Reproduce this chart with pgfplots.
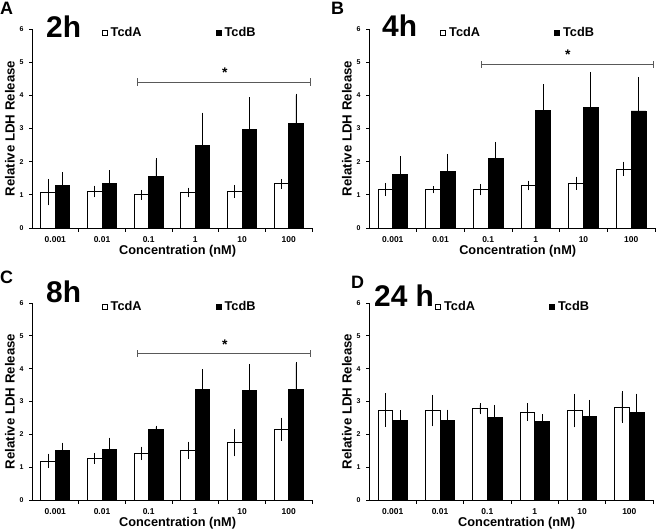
\documentclass[border=0pt]{standalone}
\usepackage{pgfplots}
\pgfplotsset{compat=1.18}
\usepackage{pgfplotstable}
\usepackage{fontspec}
\setmainfont{Liberation Sans}

\pgfplotstableread{
x A Ae B Be
0 1.08 0.35 1.27 0.37
1 1.10 0.13 1.33 0.37
2 1.00 0.10 1.55 0.50
3 1.07 0.10 2.48 0.95
4 1.10 0.15 2.97 0.93
5 1.33 0.10 3.16 0.84
}\tabA
\pgfplotstableread{
x A Ae B Be
0 1.16 0.15 1.62 0.50
1 1.15 0.06 1.71 0.48
2 1.15 0.12 2.10 0.45
3 1.28 0.10 3.55 0.73
4 1.35 0.15 3.63 1.03
5 1.78 0.17 3.53 0.97
}\tabB
\pgfplotstableread{
x A Ae B Be
0 1.19 0.17 1.50 0.20
1 1.27 0.12 1.55 0.30
2 1.42 0.16 2.16 0.06
3 1.51 0.22 3.37 0.56
4 1.74 0.36 3.35 0.75
5 2.16 0.30 3.36 0.80
}\tabC
\pgfplotstableread{
x A Ae B Be
0 2.74 0.46 2.41 0.28
1 2.72 0.43 2.43 0.27
2 2.78 0.12 2.52 0.33
3 2.68 0.22 2.39 0.17
4 2.72 0.46 2.54 0.46
5 2.83 0.43 2.66 0.53
}\tabD

\pgfplotsset{
  panel/.style={
    scale only axis, width=280bp, height=199bp,
    axis x line=bottom, axis y line=left,
    axis line style={-, line width=0.8bp},
    xmin=-0.5, xmax=5.5, ymin=0, ymax=6,
    ybar,
    xtick={0,...,5}, xticklabels={0.001,0.01,0.1,1,10,100},
    major x tick style={draw=none},
    minor xtick={0.5,1.5,2.5,3.5,4.5,5.5},
    minor tick length=4bp,
    ytick={0,...,6},
    major tick length=3bp,
    tick align=outside,
    tick style={line width=0.8bp, black},
    /pgf/number format/assume math mode=true,
    xticklabel style={font=\fontsize{8.5}{8.5}\selectfont\bfseries, yshift=-2bp},
    yticklabel style={font=\fontsize{7}{7}\selectfont\bfseries, xshift=-2bp},
    xlabel={Concentration (nM)},
    ylabel={Relative LDH Release},
    every axis x label/.style={at={(axis description cs:0.52,0)}, anchor=center, yshift=-23bp, font=\fontsize{12.8}{12.8}\selectfont\bfseries},
    every axis y label/.style={at={(axis description cs:0,0.5)}, anchor=center, rotate=90, yshift=22bp, font=\fontsize{13.3}{13.3}\selectfont\bfseries},
    legend columns=2,
    legend style={draw=none, fill=none, anchor=west, inner sep=0pt,
      font=\fontsize{12.8}{12.8}\selectfont\bfseries,
      /tikz/every even column/.append style={column sep=72bp}},
    clip=false,
  },
  barA/.style={forget plot, fill=white, draw=black, line width=0.8bp, bar width=0.31, bar shift=-0.155,
    error bars/.cd, y dir=both, y explicit,
    error bar style={line width=0.8bp, black}, error mark options={mark size=1.6bp, line width=0.8bp, black}},
  barB/.style={forget plot, fill=black, draw=black, line width=0.8bp, bar width=0.31, bar shift=0.155,
    error bars/.cd, y dir=both, y explicit,
    error bar style={line width=0.8bp, black}, error mark options={mark size=1.6bp, line width=0.8bp, black}},
  legA/.style={legend image code/.code={\draw[fill=white,draw=black,line width=0.7bp] (0bp,-2.6bp) rectangle (5.2bp,2.6bp); \path (6.5bp,0);}},
  legB/.style={legend image code/.code={\draw[fill=black,draw=black,line width=0.7bp] (0bp,-2.6bp) rectangle (5.2bp,2.6bp); \path (6.5bp,0);}},
}

\begin{document}
\begin{tikzpicture}
\useasboundingbox (0bp,0bp) rectangle (660bp,530bp);

% Panel A
\begin{axis}[panel, at={(32bp,302bp)}, anchor=south west,
  legend style={at={(rel axis cs:0.248,0.98)}}]
\addlegendimage{legA}\addlegendentry{TcdA}
\addlegendimage{legB}\addlegendentry{TcdB}
\addplot[barA] table[x=x, y=A, y error=Ae] {\tabA};
\addplot[barB] table[x=x, y=B, y error=Be] {\tabA};
\draw[line width=0.8bp, black!65, |-|] (axis cs:1.76,4.40) -- (axis cs:5.48,4.40);
\node[font=\fontsize{14}{14}\selectfont\bfseries] at (axis cs:3.63,4.68) {*};
\end{axis}

% Panel B
\begin{axis}[panel, width=286bp, at={(369bp,302bp)}, anchor=south west,
  legend style={at={(rel axis cs:0.248,0.98)}}]
\addlegendimage{legA}\addlegendentry{TcdA}
\addlegendimage{legB}\addlegendentry{TcdB}
\addplot[barA] table[x=x, y=A, y error=Ae] {\tabB};
\addplot[barB] table[x=x, y=B, y error=Be] {\tabB};
\draw[line width=0.8bp, black!65, |-|] (axis cs:1.86,4.93) -- (axis cs:5.48,4.93);
\node[font=\fontsize{14}{14}\selectfont\bfseries] at (axis cs:3.67,5.22) {*};
\end{axis}

% Panel C
\begin{axis}[panel, height=197bp, at={(32bp,30bp)}, anchor=south west,
  legend style={at={(rel axis cs:0.248,0.98)}}]
\addlegendimage{legA}\addlegendentry{TcdA}
\addlegendimage{legB}\addlegendentry{TcdB}
\addplot[barA] table[x=x, y=A, y error=Ae] {\tabC};
\addplot[barB] table[x=x, y=B, y error=Be] {\tabC};
\draw[line width=0.8bp, black!65, |-|] (axis cs:1.76,4.46) -- (axis cs:5.48,4.46);
\node[font=\fontsize{14}{14}\selectfont\bfseries] at (axis cs:3.63,4.74) {*};
\end{axis}

% Panel D
\begin{axis}[panel, width=284bp, height=197bp, at={(369bp,30bp)}, anchor=south west,
  legend style={at={(rel axis cs:0.232,0.98)}}]
\addlegendimage{legA}\addlegendentry{TcdA}
\addlegendimage{legB}\addlegendentry{TcdB}
\addplot[barA] table[x=x, y=A, y error=Ae] {\tabD};
\addplot[barB] table[x=x, y=B, y error=Be] {\tabD};
\end{axis}

% Panel letters and titles
\node[anchor=north west, inner sep=0pt, font=\fontsize{18}{18}\selectfont\bfseries] at (0bp,528bp) {A};
\node[anchor=north west, inner sep=0pt, font=\fontsize{18}{18}\selectfont\bfseries] at (331bp,528bp) {B};
\node[anchor=north west, inner sep=0pt, font=\fontsize{18}{18}\selectfont\bfseries] at (0bp,259bp) {C};
\node[anchor=north west, inner sep=0pt, font=\fontsize{18}{18}\selectfont\bfseries] at (351bp,254bp) {D};

\node[anchor=base west, inner sep=0pt, font=\fontsize{30}{30}\selectfont\bfseries] at (46bp,492bp) {2h};
\node[anchor=base west, inner sep=0pt, font=\fontsize{30}{30}\selectfont\bfseries] at (382bp,493bp) {4h};
\node[anchor=base west, inner sep=0pt, font=\fontsize{30}{30}\selectfont\bfseries] at (46bp,227bp) {8h};
\node[anchor=base west, inner sep=0pt, font=\fontsize{30}{30}\selectfont\bfseries] at (374bp,223bp) {24 h};
\end{tikzpicture}
\end{document}
